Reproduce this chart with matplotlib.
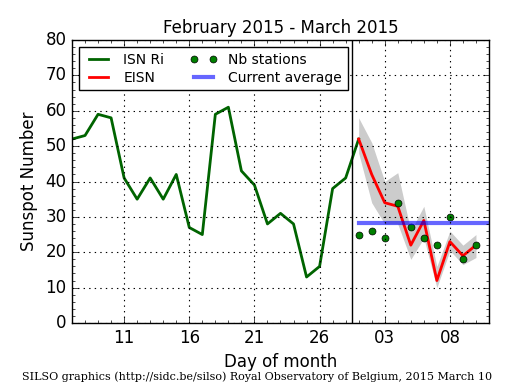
import matplotlib
matplotlib.use("Agg")
import matplotlib.pyplot as plt
import numpy as np

# days counted from 1 Feb 2015 (Mar 1 = 29)
isn_days = np.arange(7, 30)
isn_ri = [52, 53, 59, 58, 41, 35, 41, 35, 42, 27, 25, 59, 61, 43, 39, 28, 31, 28, 13, 16, 38, 41, 52]

eisn_days = np.arange(29, 39)
eisn = [52, 42, 34, 33, 22, 29, 12, 23, 19, 22]
eisn_hi = [58, 51, 40, 42.5, 26, 33, 16, 26, 22, 25]
eisn_lo = [48, 34, 28, 28, 18, 24, 10, 20.5, 16.5, 18.5]
nb_stations = [25, 26, 24, 34, 27, 24, 22, 30, 18, 22]

current_avg = 28.4
tick_pos = [11, 16, 21, 26, 31, 36]
tick_lab = ["11", "16", "21", "26", "03", "08"]

plt.style.use("classic")
plt.rcParams["figure.facecolor"] = "white"
plt.rcParams["savefig.facecolor"] = "white"

fig = plt.figure(figsize=(5.15, 3.9), dpi=100)
ax = fig.add_axes([0.1398, 0.1718, 0.8097, 0.7256])

ax.fill_between(eisn_days, eisn_lo, eisn_hi, color="0.5", alpha=0.4, linewidth=0)
ax.plot(isn_days, isn_ri, color="darkgreen", lw=2, label="ISN Ri")
ax.plot(eisn_days, eisn, color="red", lw=2, label="EISN")
ax.plot(eisn_days, nb_stations, "o", color="green", mec="black", mew=0.5, ms=5,
        label="Nb stations")
ax.plot([29, 39], [current_avg, current_avg], color="blue", alpha=0.6, lw=3,
        label="Current average")
ax.axvline(28.5, color="black", lw=1)

ax.set_xlim(7, 39)
ax.set_ylim(0, 80)
ax.set_xticks(tick_pos)
ax.set_xticklabels(tick_lab)
ax.set_xticks(np.arange(7, 40), minor=True)
ax.set_yticks(np.arange(0, 81, 10))
ax.set_yticks(np.arange(0, 81, 2), minor=True)
ax.grid(True, which="major", linestyle=":", color="black", lw=0.8)
ax.tick_params(labelsize=12)

ax.set_title("February 2015 - March 2015", fontsize=12)
ax.set_xlabel("Day of month", fontsize=12)
ax.set_ylabel("Sunspot Number", fontsize=12)

leg = ax.legend(loc="upper left", ncol=2, fontsize=10, numpoints=2, fancybox=False,
                handlelength=2.0, handletextpad=0.8, columnspacing=1.8,
                labelspacing=0.3, borderpad=0.4, borderaxespad=0.5)
leg.get_frame().set_edgecolor("black")

fig.text(0.5, 0.02, "SILSO graphics (http://sidc.be/silso) Royal Observatory of Belgium, 2015 March 10",
         ha="center", va="bottom", fontsize=8, family="DejaVu Serif")

fig.savefig("out.png", dpi=100)
